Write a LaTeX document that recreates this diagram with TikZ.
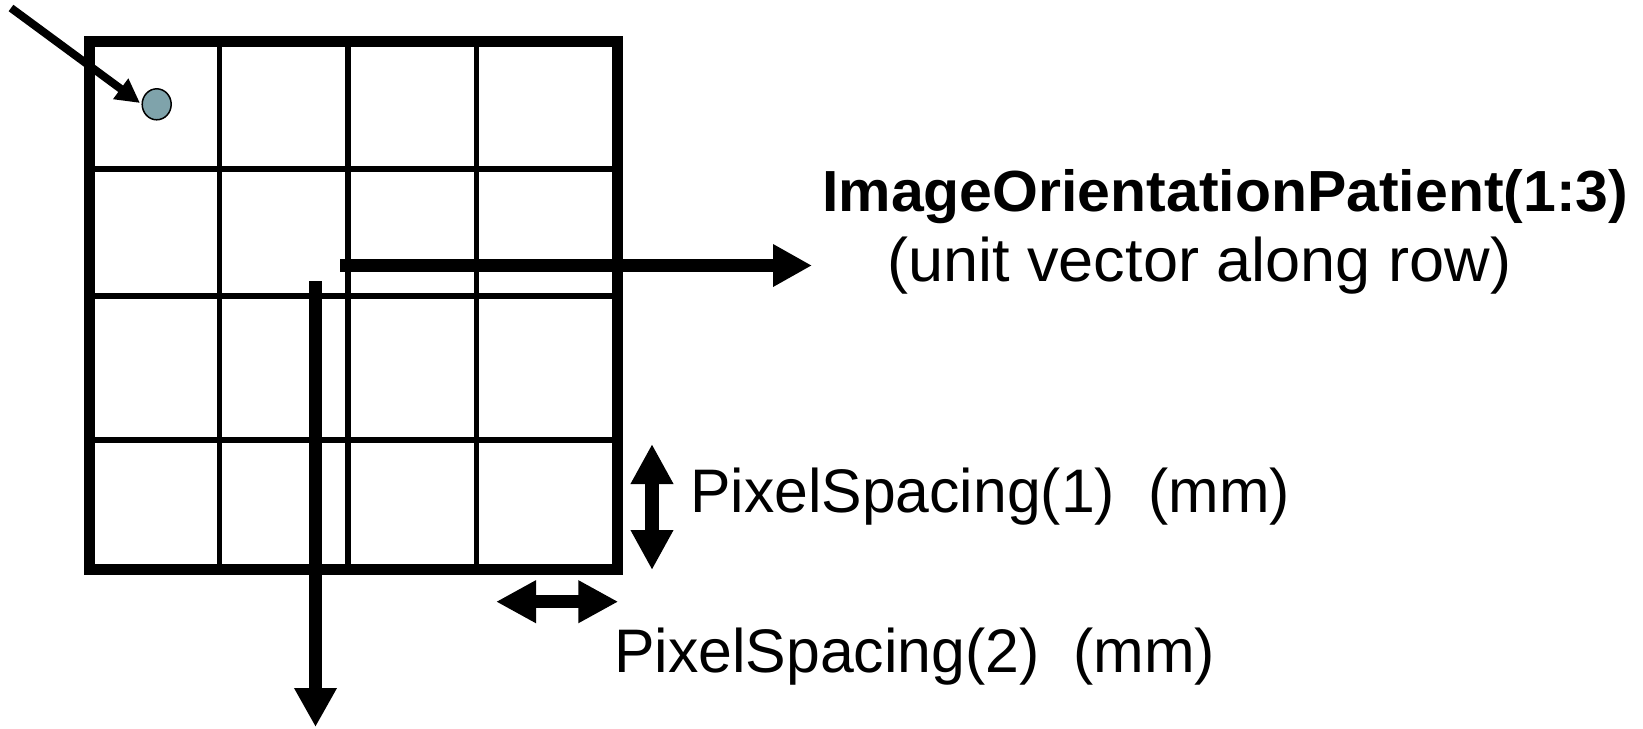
\documentclass[tikz,border=0pt]{standalone}
\usepackage{fontspec}
\setmainfont{Liberation Sans}
\usetikzlibrary{arrows.meta,shapes.geometric}
\newcommand{\fitto}[2]{\resizebox{#1}{\height}{#2}}
\definecolor{dotfill}{RGB}{127,163,171}
\begin{document}
\begin{tikzpicture}[x=1pt,y=-1pt,
  frame/.style={line width=11pt},
  gridline/.style={line width=5.5pt},
  bigarrow/.style={line width=13.5pt,-{Triangle[length=39pt,width=40pt]}},
  dblarrow/.style={line width=13.5pt,{Triangle[length=40pt,width=40pt]}-{Triangle[length=40pt,width=40pt]}},
  ptrarrow/.style={line width=8pt,-{Triangle[length=24pt,width=24pt]}},
  lbl/.style={inner sep=0pt,anchor=base west,font=\fontsize{61.5}{70}\selectfont},
  ttl/.style={lbl,font=\fontsize{58}{70}\selectfont\bfseries}
]
\useasboundingbox (0,0) rectangle (1643,728);
% grid
\foreach \x in {219.5,347.8,476.5} \draw[gridline] (\x,41.5) -- (\x,569.7);
\foreach \y in {169,296,440} \draw[gridline] (89.5,\y) -- (617.8,\y);
\draw[frame] (89.5,41.5) rectangle (617.8,569.7);
% pixel dot and pointer
\node[ellipse,draw,line width=1.5pt,fill=dotfill,minimum width=29pt,minimum height=31pt,inner sep=0pt] (dot) at (156.7,104.3) {};
\coordinate (ptrs) at (11,8);
\coordinate (ptre) at (140,103);
\draw[ptrarrow] (ptrs) -- (ptre);
% row / column direction arrows
\coordinate (hs) at (340,265.5);
\coordinate (he) at (812,265.5);
\draw[bigarrow] (hs) -- (he);
\coordinate (vs) at (315.5,281);
\coordinate (ve) at (315.5,727);
\draw[bigarrow] (vs) -- (ve);
% pixel spacing arrows
\coordinate (d1s) at (652,444);
\coordinate (d1e) at (652,570);
\draw[dblarrow] (d1s) -- (d1e);
\coordinate (d2s) at (496,601.7);
\coordinate (d2e) at (618.3,601.7);
\draw[dblarrow] (d2s) -- (d2e);
% labels
\node[ttl] (title) at (822,211) {\fitto{806pt}{ImageOrientationPatient(1:3)}};
\node[lbl] (sub) at (887,281) {\fitto{624pt}{(unit vector along row)}};
\node[lbl] (ps1) at (690,512.5) {\fitto{600pt}{PixelSpacing(1)\ \ (mm)}};
\node[lbl] (ps2) at (614,672.5) {\fitto{601pt}{PixelSpacing(2)\ \ (mm)}};
\end{tikzpicture}
\end{document}
